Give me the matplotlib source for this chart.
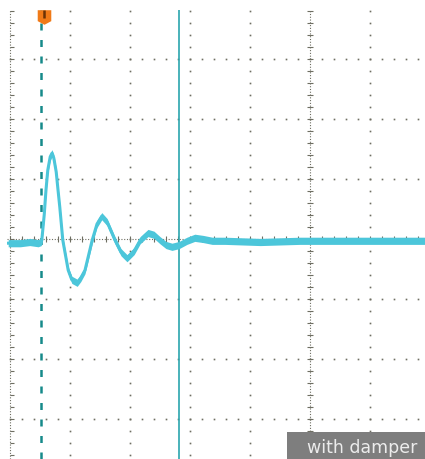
import numpy as np
import matplotlib.pyplot as plt
from matplotlib.path import Path
from matplotlib.patches import Rectangle

# trace, in divisions (0,0 = screen centre)
t_div = [-5.03, -4.83, -4.67, -4.53, -4.48, -4.47, -4.43, -4.40, -4.37, -4.33,
         -4.30, -4.27, -4.23, -4.20, -4.17, -4.12, -4.03, -3.97, -3.88, -3.82,
         -3.75, -3.63, -3.55, -3.47, -3.38, -3.25, -3.15, -3.05, -2.93, -2.83,
         -2.70, -2.60, -2.50, -2.40, -2.30, -2.18, -2.05, -1.92, -1.78, -1.63,
         -1.42, -0.83, -0.17, 0.50, 1.17, 1.92]
v_div = [-0.07, -0.07, -0.05, -0.07, -0.05, -0.02, 0.40, 0.82, 1.15, 1.37,
         1.43, 1.35, 1.12, 0.82, 0.53, -0.02, -0.52, -0.68, -0.73, -0.65,
         -0.52, -0.02, 0.25, 0.38, 0.28, -0.02, -0.22, -0.32, -0.20, -0.02,
         0.10, 0.07, -0.02, -0.10, -0.13, -0.10, -0.03, 0.02, 0.00, -0.03,
         -0.03, -0.05, -0.03, -0.03, -0.03, -0.03]
noise_div = 0.06  # half-height of the noise band

trigger_t = -4.48
cursor_t = -2.18
label = "with damper"

x_lo, x_hi = -5.05, 1.917
y_lo, y_hi = -3.667, 3.817

fig = plt.figure(figsize=(4.25, 4.59), dpi=100, facecolor="white")
ax = fig.add_axes([7 / 425, 0, 418 / 425, 449 / 459])
ax.set_facecolor("black")
ax.set_xlim(x_lo, x_hi)
ax.set_ylim(y_lo, y_hi)
ax.set_axis_off()

dot = "#6e6e62"
minor = np.arange(-25, 11) * 0.2
vminor = np.arange(-19, 20) * 0.2

# graticule dots
for gx in [-4, -3, -2, -1, 1]:
    ax.plot(np.full(vminor.size, gx), vminor, ls="none", marker="s", ms=1.2,
            mew=0, color=dot, zorder=1)
for gy in [-3, -2, -1, 1, 2, 3]:
    ax.plot(minor, np.full(minor.size, gy), ls="none", marker="s", ms=1.2,
            mew=0, color=dot, zorder=1)

# centre axes with tick marks
ax.axvline(0, color=dot, lw=0.8, ls=(0, (1, 1.5)), zorder=1)
ax.axhline(0, color=dot, lw=0.8, ls=(0, (1, 1.5)), zorder=1)
ax.plot(np.zeros(vminor.size), vminor, ls="none", marker="_", ms=5, mew=0.8,
        color=dot, zorder=1)
ax.plot(minor, np.zeros(minor.size), ls="none", marker="|", ms=5, mew=0.8,
        color=dot, zorder=1)

# left edge scale
ax.axvline(-5, color=dot, lw=0.8, ls=(0, (1, 1.5)), zorder=1)
ax.plot(np.full(vminor.size, -4.97), vminor, ls="none", marker="_", ms=3,
        mew=0.8, color=dot, zorder=1)

# cursors
ax.axvline(trigger_t, color="#168a8a", lw=1.8, ls=(0, (2.8, 3.8)), zorder=2)
ax.axvline(cursor_t, color="#2ba6ae", lw=1.2, zorder=2)

# waveform: noise band plus the trace itself
v = np.array(v_div)
ax.fill_between(t_div, v - noise_div, v + noise_div, color="#4cc6da", lw=0,
                zorder=3)
ax.plot(t_div, v_div, color="#4cc6da", lw=2.2, solid_joinstyle="round",
        zorder=3)

# trigger position marker
shield = Path([(-0.93, 1), (0.93, 1), (0.93, -0.5), (0, -1), (-0.93, -0.5),
               (-0.93, 1)])
ax.plot([trigger_t + 0.04], [y_hi - 0.12], marker=shield, ms=10.5, mew=0,
        color="#f07a18", zorder=4, clip_on=False)
ax.plot([trigger_t + 0.04], [y_hi - 0.07], marker="|", ms=6, mew=1.8,
        color="#6a3206", zorder=5, clip_on=False)

# label box in the bottom right corner
ax.add_patch(Rectangle((280 / 418, 0), 138 / 418, 27 / 449,
                       transform=ax.transAxes, fc="#7e7e7e", ec="none",
                       zorder=6))
ax.text(410 / 418, 11 / 449, label, transform=ax.transAxes, ha="right",
        va="center", fontsize=12.5, color="#ececec", zorder=7)

fig.savefig("out.png", dpi=100, facecolor="white")
